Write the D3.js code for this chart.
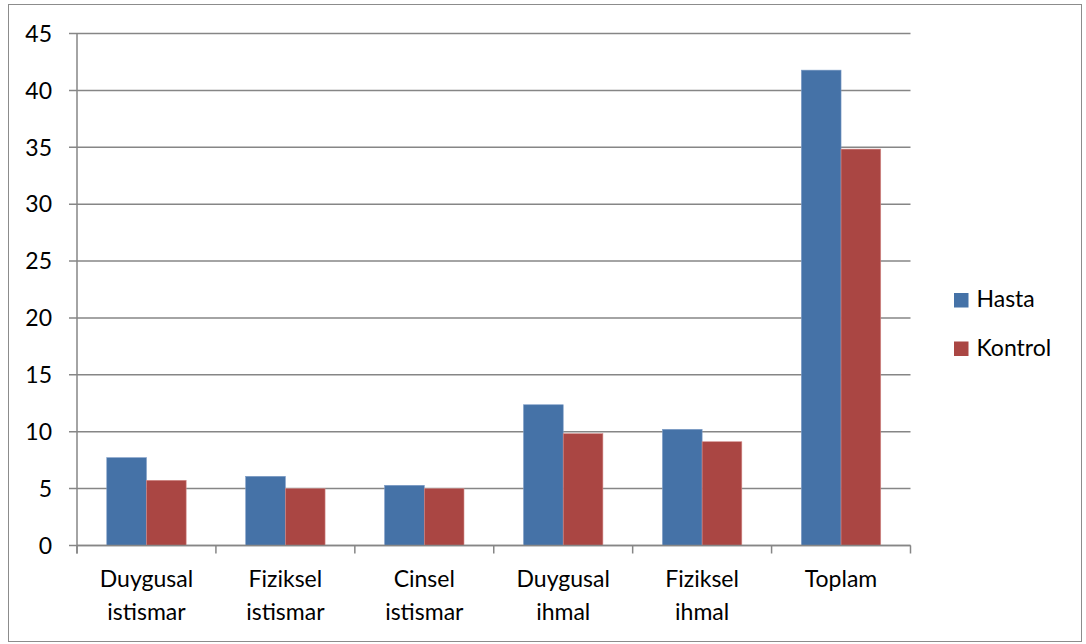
<!DOCTYPE html>
<html>
<head>
<meta charset="utf-8">
<script src="https://cdn.jsdelivr.net/npm/d3@7"></script>
<style>
  html, body { margin: 0; padding: 0; background: #fff; }
  svg { display: block; }
  text { font-family: Lato, "Open Sans", sans-serif; fill: #000; }
</style>
</head>
<body>
<svg id="chart" width="1086" height="644"></svg>
<script>
// Category labels (split into lines) and series values
const categories = [
  ["Duygusal", "istismar"],
  ["Fiziksel", "istismar"],
  ["Cinsel", "istismar"],
  ["Duygusal", "ihmal"],
  ["Fiziksel", "ihmal"],
  ["Toplam"]
];
const seriesNames = ["Hasta", "Kontrol"];
const hasta   = [7.72, 6.08, 5.29, 12.37, 10.21, 41.78];
const kontrol = [5.73, 5.0, 5.0, 9.83, 9.12, 34.84];
const yTicks = [0, 5, 10, 15, 20, 25, 30, 35, 40, 45];
const colors = ["#4572A7", "#AA4643"];
const edgeColors = ["#7d9cc6", "#d28a88"];

const svg = d3.select("#chart");
const W = 1086, H = 644;
const fontSize = 23;

// Outer frame
svg.append("rect")
  .attr("x", 8.5).attr("y", 4.5)
  .attr("width", W - 13).attr("height", H - 7)
  .attr("fill", "#fff").attr("stroke", "#8c8c8c").attr("stroke-width", 1);

const plot = { left: 77, right: 910.5, top: 33.5, bottom: 545.5 };
const catIdx = categories.map((d, i) => i);

const x = d3.scaleBand().domain(catIdx).range([plot.left, plot.right])
  .paddingInner(0).paddingOuter(0);
// 150% gap: two bars of width w, gap 1.5w
const bw = x.bandwidth() / 3.5;
const xs = d3.scaleBand().domain([0, 1]).range([0, 2 * bw]);

const y = d3.scaleLinear().domain([0, 45]).range([plot.bottom, plot.top]);

const gridColor = "#868686";

// Horizontal gridlines with outward tick marks
svg.append("g").selectAll("line").data(yTicks).join("line")
  .attr("x1", plot.left - 8).attr("x2", plot.right)
  .attr("y1", d => y(d)).attr("y2", d => y(d))
  .attr("stroke", gridColor).attr("stroke-width", 1.5);

// Y tick labels
svg.append("g").selectAll("text").data(yTicks).join("text")
  .attr("x", 52).attr("y", d => y(d))
  .attr("dy", "0.36em")
  .attr("text-anchor", "end")
  .attr("font-size", fontSize)
  .text(d => d);

// Bars
const series = [hasta, kontrol];
series.forEach((vals, s) => {
  svg.append("g").selectAll("rect").data(vals).join("rect")
    .attr("x", (d, i) => x(i) + 0.75 * bw + xs(s))
    .attr("y", d => y(d))
    .attr("width", xs.bandwidth())
    .attr("height", d => y(0) - y(d))
    .attr("fill", colors[s])
    .attr("stroke", edgeColors[s]).attr("stroke-width", 0.6);
});

// Y axis line
svg.append("line")
  .attr("x1", plot.left).attr("x2", plot.left)
  .attr("y1", plot.top).attr("y2", plot.bottom + 8)
  .attr("stroke", gridColor).attr("stroke-width", 1.5);

// X axis line and category ticks
svg.append("line")
  .attr("x1", plot.left).attr("x2", plot.right)
  .attr("y1", plot.bottom).attr("y2", plot.bottom)
  .attr("stroke", gridColor).attr("stroke-width", 1.5);
const boundaries = catIdx.map(i => x(i)).concat([plot.right]);
svg.append("g").selectAll("line").data(boundaries).join("line")
  .attr("x1", d => d).attr("x2", d => d)
  .attr("y1", plot.bottom).attr("y2", plot.bottom + 8)
  .attr("stroke", gridColor).attr("stroke-width", 1.5);

// Category labels
const lab = svg.append("g").selectAll("text").data(categories).join("text")
  .attr("x", (d, i) => x(i) + x.bandwidth() / 2)
  .attr("y", 586.5)
  .attr("text-anchor", "middle")
  .attr("font-size", fontSize);
lab.selectAll("tspan").data(d => d).join("tspan")
  .attr("x", function() { return d3.select(this.parentNode).attr("x"); })
  .attr("dy", (d, i) => i === 0 ? 0 : 33)
  .text(d => d);

// Legend
const legend = svg.append("g").selectAll("g").data(seriesNames).join("g")
  .attr("transform", (d, i) => `translate(954, ${293 + i * 48.5})`);
legend.append("rect")
  .attr("width", 14.5).attr("height", 14.5)
  .attr("fill", (d, i) => colors[i]);
legend.append("text")
  .attr("x", 22.5).attr("y", 14.3)
  .attr("font-size", fontSize)
  .text(d => d);
</script>
</body>
</html>
